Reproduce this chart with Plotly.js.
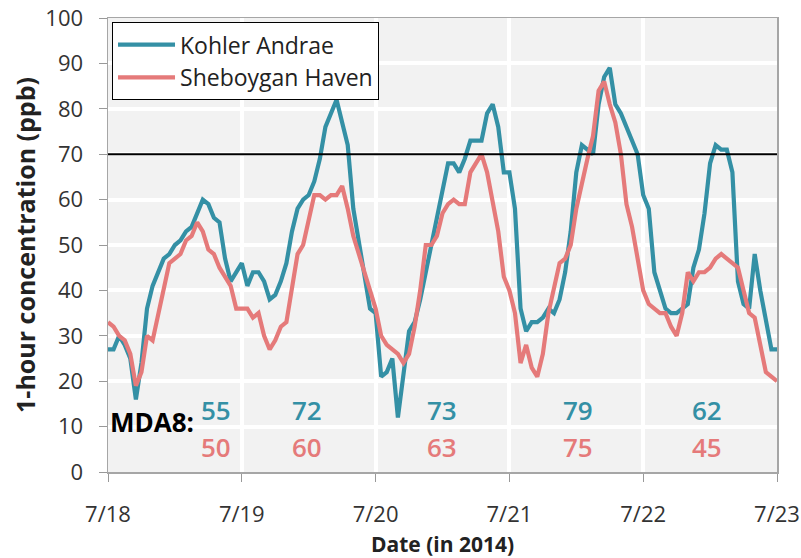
<!DOCTYPE html>
<html>
<head>
<meta charset="utf-8">
<script src="https://cdn.plot.ly/plotly-3.0.1.min.js"></script>
<style>
  html, body { margin: 0; padding: 0; background: #fff; }
  #graf { width: 801px; height: 558px; }
</style>
</head>
<body>
<div id="graf"></div>
<script>
// hourly 1-hour ozone, 7/18 00:00 to 7/23 00:00 (2014)
var kohler = [27,27,30,28,25,16,24,36,41,44,
  47,48,50,51,53,54,57,60,59,56,
  55,47,42,44,46,41,44,44,42,38,
  39,42,46,53,58,60,61,64,69,76,
  79,82,77,72,58,51,44,36,35,21,
  22,25,12,21,31,33,38,44,50,57,
  63,68,68,66,69,73,73,73,79,81,
  76,66,66,58,36,31,33,33,34,36,
  35,38,44,53,66,72,71,70,81,87,
  89,81,79,76,73,70,61,58,44,40,
  36,35,35,36,37,45,49,57,68,72,
  71,71,66,42,37,36,48,40,34,27,27];
var sheboygan = [33,32,30,29,26,19,22,30,29,35,
  40,46,47,48,51,52,55,53,49,48,
  45,43,41,36,36,36,34,35,30,27,
  29,32,33,41,48,50,56,61,61,60,
  61,61,63,58,52,48,44,40,36,30,
  28,27,26,24,26,32,40,50,50,52,
  57,59,60,59,59,66,68,70,66,60,
  53,43,40,35,24,28,23,21,26,35,
  41,46,47,50,58,64,69,74,84,86,
  81,77,70,59,54,47,40,37,36,35,
  35,32,30,35,44,42,44,44,45,47,
  48,47,46,45,40,35,34,28,22,21,20];
var mdaKohler = [55, 72, 73, 79, 62];
var mdaSheboygan = [50, 60, 63, 75, 45];
var mdaLabelHour = [19.4, 35.7, 59.9, 84.3, 107.4];
var standard = 70;

function stamp(h) {
  var d = new Date(Date.UTC(2014, 6, 18) + h * 3600000);
  return d.toISOString().slice(0, 19).replace('T', ' ');
}
var horas = kohler.map(function (v, i) { return stamp(i); });

var teal = '#3490a5';
var rosa = '#e57a7a';
var fuente = 'Open Sans, Noto Sans, sans-serif';

var traceA = {
  x: horas, y: kohler, name: 'Kohler Andrae',
  type: 'scatter', mode: 'lines',
  line: { color: teal, width: 4.2 }
};
var traceB = {
  x: horas, y: sheboygan, name: 'Sheboygan Haven',
  type: 'scatter', mode: 'lines',
  line: { color: rosa, width: 4.2 }
};

var notas = [{
  x: stamp(0), y: 11, xref: 'x', yref: 'y', xanchor: 'left', yanchor: 'middle',
  text: '<b>MDA8:</b>', showarrow: false,
  font: { family: fuente, size: 26, color: '#000' }
}];
mdaLabelHour.forEach(function (h, i) {
  notas.push({ x: stamp(h), y: 13.7, text: String(mdaKohler[i]), showarrow: false,
    xanchor: 'center', yanchor: 'middle',
    font: { family: fuente, size: 26, color: teal, weight: 600 } });
  notas.push({ x: stamp(h), y: 5.5, text: String(mdaSheboygan[i]), showarrow: false,
    xanchor: 'center', yanchor: 'middle',
    font: { family: fuente, size: 26, color: rosa, weight: 600 } });
});

var layout = {
  width: 801, height: 558,
  margin: { l: 108, r: 24, t: 18, b: 86 },
  paper_bgcolor: '#fff',
  plot_bgcolor: '#f2f2f2',
  font: { family: fuente, color: '#333' },
  showlegend: true,
  legend: {
    x: 0.006, y: 0.991, xanchor: 'left', yanchor: 'top',
    bgcolor: '#fff', bordercolor: '#000', borderwidth: 1,
    itemwidth: 57,
    font: { family: fuente, size: 23, color: '#222' }
  },
  xaxis: {
    type: 'date',
    range: [stamp(0), stamp(120)],
    dtick: 86400000, tick0: stamp(0),
    tickformat: '%-m/%-d',
    ticks: 'outside', ticklen: 8, tickcolor: '#999',
    ticklabelstandoff: 14,
    tickfont: { size: 22, color: '#333' },
    showline: true, linecolor: '#a6a6a6', linewidth: 1.5, mirror: true,
    showgrid: true, gridcolor: '#fff', gridwidth: 4,
    zeroline: false,
    title: { text: '<b>Date (in 2014)</b>', font: { size: 21, color: '#222' }, standoff: 18 }
  },
  yaxis: {
    range: [0, 100], dtick: 10,
    ticks: 'outside', ticklen: 8, tickcolor: '#999',
    ticksuffix: '\u2002',
    tickfont: { size: 22, color: '#333' },
    showline: true, linecolor: '#a6a6a6', linewidth: 1.5, mirror: true,
    showgrid: true, gridcolor: '#fff', gridwidth: 4,
    zeroline: false,
    title: { text: '<b>1-hour concentration (ppb)</b>', font: { size: 25, color: '#222' }, standoff: 2 }
  },
  shapes: [{
    type: 'line', xref: 'paper', yref: 'y', x0: 0, x1: 1, y0: standard, y1: standard,
    line: { color: '#000', width: 2 }, layer: 'above'
  }],
  annotations: notas
};

Plotly.newPlot('graf', [traceA, traceB], layout, { staticPlot: true });
</script>
</body>
</html>
